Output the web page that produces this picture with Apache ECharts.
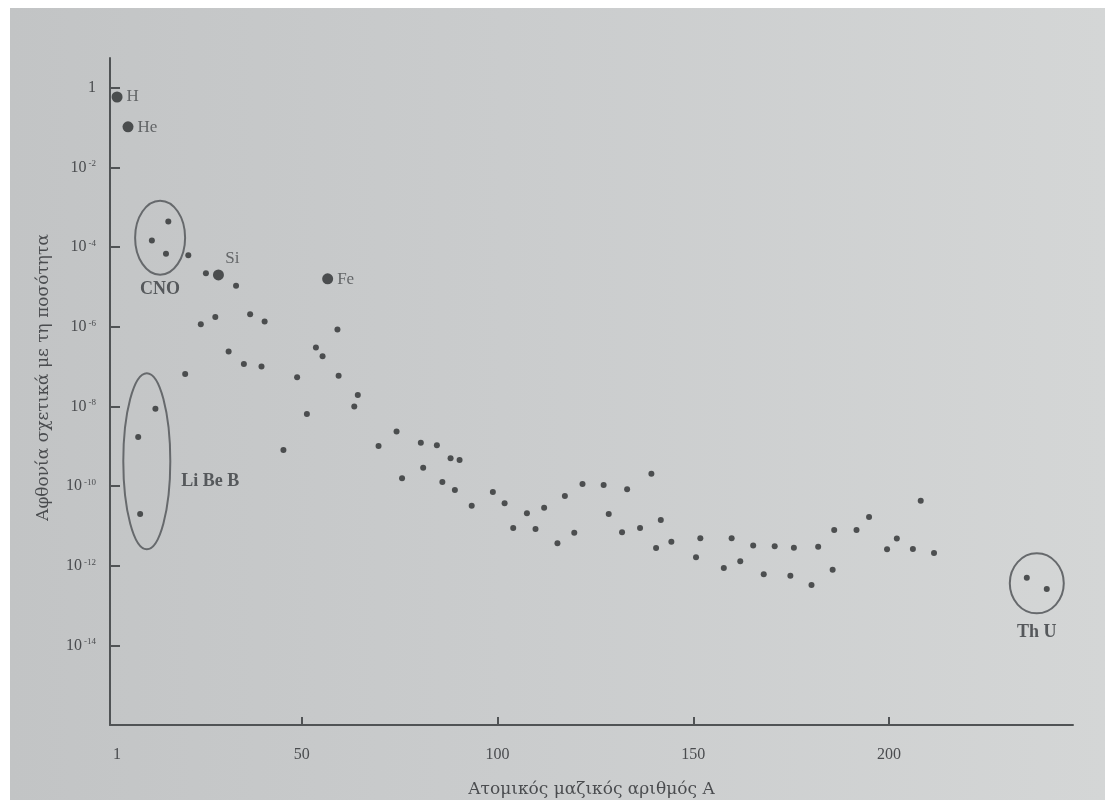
<!DOCTYPE html>
<html><head><meta charset="utf-8">
<script src="https://cdn.jsdelivr.net/npm/echarts@6/dist/echarts.min.js"></script>
<style>
html,body{margin:0;padding:0;background:#fff;width:1110px;height:805px;overflow:hidden;}
#photo{position:absolute;left:10px;top:8px;width:1095px;height:792px;background:linear-gradient(90deg,#c2c4c5 0%,#cacccd 45%,#d4d6d6 100%);}
#chart{position:absolute;left:0;top:0;width:1095px;height:792px;}
</style></head><body>
<div id="photo"><div id="chart"></div></div>
<script>
// ---- data ----
const massNumbers = [21.0, 25.5, 33.2, 27.9, 24.2, 36.8, 40.5, 59.1, 31.3, 35.2, 39.7, 53.6, 55.3, 20.2, 48.8, 59.4, 64.3, 63.4, 51.3, 45.3, 69.6, 74.2, 75.6, 80.4, 84.5, 81.0, 88.0, 90.3, 85.9, 89.1, 93.4, 98.8, 101.8, 107.5, 104.0, 109.7, 111.9, 115.3, 117.2, 119.6, 121.7, 127.1, 128.4, 131.8, 133.1, 136.4, 139.3, 141.7, 140.5, 144.4, 151.8, 150.7, 159.8, 157.8, 162.0, 165.3, 168.0, 170.8, 174.8, 175.7, 180.2, 181.9, 185.6, 186.0, 191.7, 194.9, 208.1, 202.0, 199.5, 206.1, 211.5];
const abundances = [6.3e-5, 2.2e-5, 1.08e-5, 1.77e-6, 1.16e-6, 2.07e-6, 1.35e-6, 8.5e-7, 2.38e-7, 1.17e-7, 1.0e-7, 3.0e-7, 1.82e-7, 6.5e-8, 5.4e-8, 5.9e-8, 1.94e-8, 9.9e-9, 6.5e-9, 8.1e-10, 1.02e-9, 2.35e-9, 1.57e-10, 1.23e-9, 1.06e-9, 2.9e-10, 5.0e-10, 4.5e-10, 1.27e-10, 8.0e-11, 3.2e-11, 7.1e-11, 3.7e-11, 2.07e-11, 8.9e-12, 8.4e-12, 2.86e-11, 3.66e-12, 5.6e-11, 6.7e-12, 1.13e-10, 1.07e-10, 1.99e-11, 6.9e-12, 8.3e-11, 8.9e-12, 2.05e-10, 1.41e-11, 2.79e-12, 4.0e-12, 4.9e-12, 1.64e-12, 4.9e-12, 8.8e-13, 1.29e-12, 3.2e-12, 6.1e-13, 3.1e-12, 5.6e-13, 2.84e-12, 3.3e-13, 3.0e-12, 7.9e-13, 7.9e-12, 7.9e-12, 1.67e-11, 4.3e-11, 4.8e-12, 2.58e-12, 2.63e-12, 2.09e-12];

const labeledNames = ['H', 'He', 'Si', 'Fe'];
const labeledMass = [2.8, 5.6, 28.7, 56.6];
const labeledAbundance = [0.59, 0.105, 2.0e-5, 1.6e-5];

const cnoMass = [15.9, 11.7, 15.3];
const cnoAbundance = [4.4e-4, 1.46e-4, 6.8e-5];
const liBeBMass = [12.6, 8.2, 8.7];
const liBeBAbundance = [8.8e-9, 1.7e-9, 2.0e-11];
const thUMass = [235.2, 240.3];
const thUAbundance = [5.0e-13, 2.6e-13];

const groupNames = ['CNO', 'Li Be B', 'Th U'];

const xTickValues = [1, 50, 100, 150, 200];
const yTickValues = [1, 1e-2, 1e-4, 1e-6, 1e-8, 1e-10, 1e-12, 1e-14];

const xAxisTitle = 'Ατομικός μαζικός αριθμός A';
const yAxisTitle = 'Αφθονία σχετικά με τη ποσότητα';

// ---- chart ----
const ink = '#2c2e30';
const textCol = '#4a4c4f';
const serif = '"Liberation Serif", "DejaVu Serif", serif';
const wideSerif = '"DejaVu Serif", "Liberation Serif", serif';

const chart = echarts.init(document.getElementById('chart'), null, {renderer: 'canvas'});

function pairs(xs, ys) { return xs.map((x, i) => [x, ys[i]]); }

const labelPos = {H: 'right', He: 'right', Si: 'top', Fe: 'right'};
const labelOffset = {H: [0, 0], He: [0, 1], Si: [14, 2], Fe: [0, 1]};

chart.setOption({
  backgroundColor: 'transparent',
  animation: false,
  grid: {left: 100, top: 50, width: 963, height: 667, containLabel: false, outerBoundsMode: 'none'},
  xAxis: {
    type: 'value', min: 1, max: 247,
    name: xAxisTitle, nameLocation: 'middle', nameGap: 56,
    nameTextStyle: {fontFamily: wideSerif, fontSize: 17, color: textCol},
    axisLine: {lineStyle: {color: '#505355', width: 2}},
    axisTick: {inside: true, length: 8, customValues: xTickValues, lineStyle: {color: '#505355', width: 2}},
    axisLabel: {
      customValues: xTickValues, margin: 22, color: textCol,
      formatter: function (v) { return v === 1 ? '{one|1}' : '{n|' + v + '}'; },
      rich: {
        one: {fontFamily: serif, fontSize: 16, color: textCol, padding: [0, 0, 0, 14]},
        n: {fontFamily: serif, fontSize: 16, color: textCol}
      }
    },
    splitLine: {show: false}
  },
  yAxis: {
    type: 'log', logBase: 10, min: 1e-16, max: Math.pow(10, 0.75),
    name: yAxisTitle, nameLocation: 'middle', nameGap: 58,
    nameTextStyle: {fontFamily: wideSerif, fontSize: 17, color: textCol, padding: [0, 0, 0, 28]},
    axisLine: {lineStyle: {color: '#505355', width: 2}},
    axisTick: {inside: true, length: 10, customValues: yTickValues, lineStyle: {color: '#505355', width: 2}},
    axisLabel: {
      customValues: yTickValues, margin: 14, color: textCol,
      formatter: function (v) {
        const e = Math.round(Math.log10(v));
        if (e === 0) return '{b|1}';
        return '{b|10}{s|' + e + '}';
      },
      rich: {
        b: {fontFamily: serif, fontSize: 16, color: textCol},
        s: {fontFamily: serif, fontSize: 9, color: textCol, verticalAlign: 'top', padding: [0, 0, 7, 2]}
      }
    },
    splitLine: {show: false}
  },
  series: [
    {
      name: 'elements', type: 'scatter', symbolSize: 6,
      itemStyle: {color: ink},
      data: pairs(massNumbers, abundances)
    },
    {
      name: 'labeled', type: 'scatter', symbolSize: 11,
      itemStyle: {color: ink},
      data: labeledNames.map((n, i) => ({
        name: n, value: [labeledMass[i], labeledAbundance[i]],
        label: {show: true, position: labelPos[n], offset: labelOffset[n], distance: 4,
                formatter: '{b}', fontFamily: serif, fontSize: 17, color: textCol}
      }))
    },
    {name: 'CNO', type: 'scatter', symbolSize: 6, itemStyle: {color: ink}, data: pairs(cnoMass, cnoAbundance)},
    {name: 'LiBeB', type: 'scatter', symbolSize: 6, itemStyle: {color: ink}, data: pairs(liBeBMass, liBeBAbundance)},
    {name: 'ThU', type: 'scatter', symbolSize: 6, itemStyle: {color: ink}, data: pairs(thUMass, thUAbundance)}
  ]
});

// ---- group ellipses, placed from the data through the axes ----
function bboxCenter(xs, ys) {
  const pts = xs.map((x, i) => chart.convertToPixel({gridIndex: 0}, [x, ys[i]]));
  const px = pts.map(p => p[0]), py = pts.map(p => p[1]);
  return [(Math.min(...px) + Math.max(...px)) / 2, (Math.min(...py) + Math.max(...py)) / 2];
}
const groups = [
  {xs: cnoMass, ys: cnoAbundance, rx: 25, ry: 37, label: groupNames[0], where: 'below', gap: 15},
  {xs: liBeBMass, ys: liBeBAbundance, rx: 23.5, ry: 88, label: groupNames[1], where: 'right', gap: 11},
  {xs: thUMass, ys: thUAbundance, rx: 27, ry: 30, label: groupNames[2], where: 'below', gap: 19}
];
const graphics = [];
groups.forEach(g => {
  const c = bboxCenter(g.xs, g.ys);
  graphics.push({
    type: 'ellipse', silent: true,
    shape: {cx: c[0], cy: c[1], rx: g.rx, ry: g.ry},
    style: {fill: 'none', stroke: '#66696c', lineWidth: 2}
  });
  const t = g.where === 'below'
    ? {x: c[0], y: c[1] + g.ry + g.gap, textAlign: 'center'}
    : {x: c[0] + g.rx + g.gap, y: c[1] + 20, textAlign: 'left'};
  graphics.push({
    type: 'text', silent: true,
    style: {text: g.label, x: t.x, y: t.y, textAlign: t.textAlign, textVerticalAlign: 'middle',
            fontFamily: serif, fontSize: 18, fontWeight: 'bold', fill: '#55585b'}
  });
});
chart.setOption({graphic: graphics});
</script>
</body></html>
